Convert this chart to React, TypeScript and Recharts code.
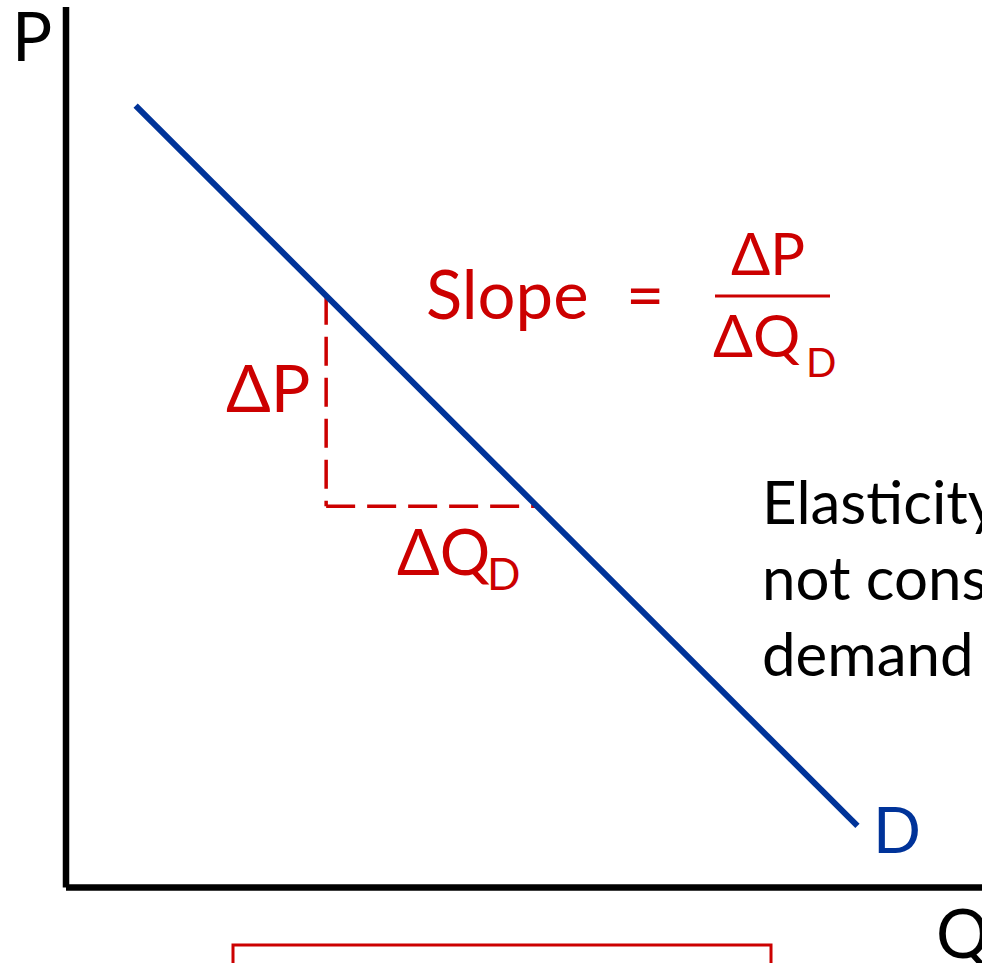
import React from "react";
import { LineChart, Line, XAxis, YAxis, ReferenceLine } from "recharts";

// Demand curve D (quantity Q, price P) in chart units
const demandQ = [7.6, 86.4];
const demandP = [88.8, 7.0];
// Dashed slope triangle
const riseQ = [28.4, 28.4];
const riseP = [67.2, 43.3];
const runQ = [28.4, 51.4];
const runP = [43.3, 43.3];

const toRows = (qs: number[], ps: number[]) => qs.map((q, i) => ({ q, p: ps[i] }));
const demandData = toRows(demandQ, demandP);
const riseData = toRows(riseQ, riseP);
const runData = toRows(runQ, runP);

const RED = "#CC0000";
const BLUE = "#003399";
const FONT = "Lato, 'Noto Sans', sans-serif";

export default function App() {
  return (
    <div style={{ position: "absolute", left: 0, top: 0, width: 982, height: 963, overflow: "hidden", background: "#fff" }}>
      <LineChart width={982} height={963} data={demandData} margin={{ top: 7, right: 0, bottom: 75.5, left: 66 }}>
        <XAxis type="number" dataKey="q" domain={[0, 100]} allowDataOverflow hide />
        <YAxis type="number" dataKey="p" domain={[0, 100]} allowDataOverflow hide />
        <ReferenceLine x={0} stroke="#000" strokeWidth={6.5} ifOverflow="visible" />
        <ReferenceLine y={0} stroke="#000" strokeWidth={6.5} ifOverflow="visible" />
        <Line data={riseData} dataKey="p" stroke={RED} strokeWidth={3.5} strokeDasharray="29 12" dot={false} isAnimationActive={false} />
        <Line data={runData} dataKey="p" stroke={RED} strokeWidth={3.5} strokeDasharray="29 12" dot={false} isAnimationActive={false} />
        <Line data={demandData} dataKey="p" stroke={BLUE} strokeWidth={6} dot={false} isAnimationActive={false} />
      </LineChart>
      <svg width={982} height={963} style={{ position: "absolute", left: 0, top: 0, pointerEvents: "none" }}>
        <g fontFamily={FONT}>
          <text x={12} y={61} fontSize={67} fill="#000">P</text>
          <text x={936} y={958} fontSize={67} fill="#000">Q</text>
          <text x={873} y={853} fontSize={63} fill={BLUE}>D</text>

          <text x={426} y={319} fontSize={67} fill={RED}>Slope</text>
          <text x={626} y={319} fontSize={66} fill={RED}>=</text>
          <text x={731} y={275} fontSize={58} fill={RED}>ΔP</text>
          <line x1={715} y1={296} x2={830} y2={296} stroke={RED} strokeWidth={3} />
          <text x={713} y={357} fontSize={59} fill={RED}>ΔQ</text>
          <text x={806} y={377} fontSize={40} fill={RED}>D</text>

          <text x={226} y={412} fontSize={66} fill={RED}>ΔP</text>
          <text x={397} y={575} fontSize={63} fill={RED}>ΔQ</text>
          <text x={487} y={590} fontSize={44} fill={RED}>D</text>

          <text x={762} y={524} fontSize={60} fill="#000">Elasticity</text>
          <text x={762} y={600} fontSize={60} fill="#000">not constant along</text>
          <text x={762} y={676} fontSize={60} fill="#000">demand curve</text>
        </g>
        <rect x={233} y={945} width={538} height={60} fill="none" stroke={RED} strokeWidth={3} />
      </svg>
    </div>
  );
}
